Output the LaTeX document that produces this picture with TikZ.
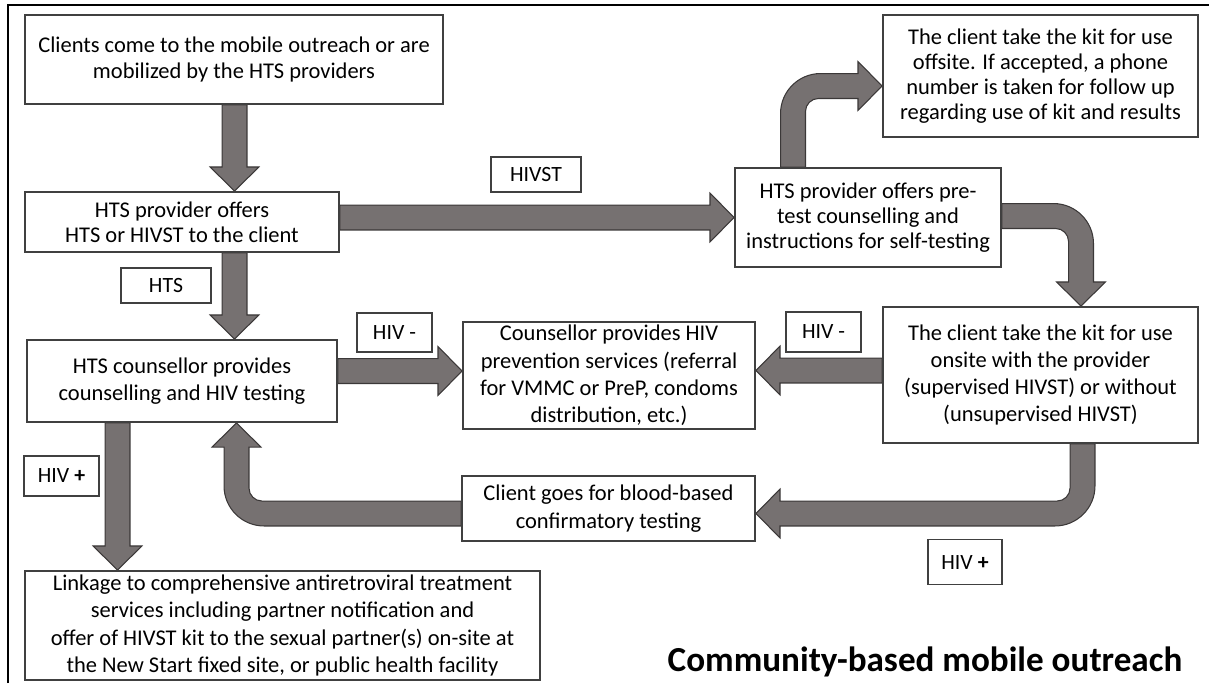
\documentclass[tikz,border=0pt]{standalone}
\usepackage{fontspec}
\setmainfont{Carlito}
\usetikzlibrary{calc,backgrounds}
\definecolor{arrowgray}{HTML}{767171}
\definecolor{arrowedge}{HTML}{3B3838}
\definecolor{boxedge}{HTML}{404040}
\tikzset{
  procbox/.style={draw=boxedge, line width=1.1pt, fill=white, align=center,
    inner sep=0pt, font=\fontsize{12.8}{15.5}\selectfont},
  tight/.style={font=\fontsize{12.8}{14.3}\selectfont},
  tagbox/.style={procbox, font=\fontsize{12.4}{14}\selectfont},
  fatarrow/.style={fill=arrowgray, draw=arrowedge, line width=0.6pt},
}
% block arrow sizes (shaft, head, bends)
\newcommand{\shaftw}{7.1pt}
\newcommand{\headw}{13.9pt}
\newcommand{\headl}{13.7pt}
\newcommand{\bendout}{22.8pt}
\newcommand{\bendin}{7.4pt}
% straight block arrows: from node, to node, position of the shaft
\newcommand{\fatdown}[3]{%
  \draw[fatarrow] let \p1=(#1.south), \p2=(#2.north), \p3=(#3,0) in
    (\x3-\shaftw,\y1) -- (\x3-\shaftw,\y2+\headl) -- (\x3-\headw,\y2+\headl) -- (\x3,\y2)
    -- (\x3+\headw,\y2+\headl) -- (\x3+\shaftw,\y2+\headl) -- (\x3+\shaftw,\y1) -- cycle;}
\newcommand{\fatright}[3]{%
  \draw[fatarrow] let \p1=(#1.east), \p2=(#2.west), \p3=(0,#3) in
    (\x1,\y3+\shaftw) -- (\x2-\headl,\y3+\shaftw) -- (\x2-\headl,\y3+\headw) -- (\x2,\y3)
    -- (\x2-\headl,\y3-\headw) -- (\x2-\headl,\y3-\shaftw) -- (\x1,\y3-\shaftw) -- cycle;}
\newcommand{\fatleft}[3]{%
  \draw[fatarrow] let \p1=(#1.west), \p2=(#2.east), \p3=(0,#3) in
    (\x1,\y3+\shaftw) -- (\x2+\headl,\y3+\shaftw) -- (\x2+\headl,\y3+\headw) -- (\x2,\y3)
    -- (\x2+\headl,\y3-\headw) -- (\x2+\headl,\y3-\shaftw) -- (\x1,\y3-\shaftw) -- cycle;}

\begin{document}
\begin{tikzpicture}[x=0.02cm, y=-0.02cm]
  \useasboundingbox (0,0) rectangle (1209,683);
  % frame
  \draw[line width=1.2pt] (8,683) -- (8,5) -- (1209,5);

  % boxes
  \node[procbox, tight, minimum width=8.36cm, minimum height=1.78cm] (clients) at (234,59.5)
    {Clients come to the mobile outreach or are\\mobilized by the HTS providers};
  \node[procbox, tight, minimum width=6.28cm, minimum height=1.2cm] (offer) at (182,222)
    {HTS provider offers\\HTS or HIVST to the client};
  \node[procbox, minimum width=6.2cm, minimum height=1.64cm] (counsel) at (182,381)
    {HTS counsellor provides\\counselling and HIV testing};
  \node[procbox, minimum width=10.3cm, minimum height=2.18cm] (linkage) at (282.5,625.5)
    {Linkage to comprehensive antiretroviral treatment\\services including partner notification and\\offer of HIVST kit to the sexual partner(s) on-site at\\the New Start fixed site, or public health facility};
  \node[procbox, minimum width=5.84cm, minimum height=2.14cm] (prevent) at (609,375.5)
    {Counsellor provides HIV\\prevention services (referral\\for VMMC or PreP, condoms\\distribution, etc.)};
  \node[procbox, minimum width=5.86cm, minimum height=1.3cm] (blood) at (608.5,508.5)
    {Client goes for blood-based\\confirmatory testing};
  \node[procbox, tight, minimum width=5.32cm, minimum height=1.98cm] (pretest) at (868,217.5)
    {HTS provider offers pre-\\test counselling and\\instructions for self-testing};
  \node[procbox, tight, minimum width=6.3cm, minimum height=2.44cm] (offsite) at (1040.5,76)
    {The client take the kit for use\\offsite. If accepted, a phone\\number is taken for follow up\\regarding use of kit and results};
  \node[procbox, minimum width=6.3cm, minimum height=2.72cm] (onsite) at (1040.5,375)
    {The client take the kit for use\\onsite with the provider\\(supervised HIVST) or without\\(unsupervised HIVST)};

  % labels
  \node[tagbox, minimum width=1.8cm, minimum height=0.7cm] (tagself) at (536,174.5) {HIVST};
  \node[tagbox, minimum width=1.8cm, minimum height=0.7cm] (tagtest) at (166,285.5) {HTS};
  \node[tagbox, minimum width=1.5cm, minimum height=0.78cm] (tagnegl) at (394.5,332.5) {HIV -};
  \node[tagbox, minimum width=1.5cm, minimum height=0.8cm] (tagnegr) at (823.5,332) {HIV -};
  \node[tagbox, minimum width=1.5cm, minimum height=0.8cm] (tagposl) at (61.5,476) {HIV \textbf{+}};
  \node[tagbox, minimum width=1.48cm, minimum height=0.9cm] (tagposr) at (965,562) {HIV \textbf{+}};

  \node[font=\fontsize{20}{24}\selectfont\bfseries] (title) at (925,662) {Community-based mobile outreach};

  \begin{scope}[on background layer]
    \fatdown{clients}{offer}{234.5}
    \fatdown{offer}{counsel}{234.5}
    \fatdown{counsel}{linkage}{117.5}
    \fatright{offer}{pretest}{217.5}
    \fatright{counsel}{prevent}{371}
    \fatleft{onsite}{prevent}{370.5}
    % bent arrows
    \draw[fatarrow] let \p1=(pretest.north), \p2=(offsite.west), \p3=(793,86) in
      (\x3-\shaftw,\y1) -- (\x3-\shaftw,\y3+\shaftw-\bendout) arc[start angle=180,end angle=90,radius=\bendout]
      -- (\x2-\headl,\y3+\shaftw) -- (\x2-\headl,\y3+\headw) -- (\x2,\y3) -- (\x2-\headl,\y3-\headw)
      -- (\x2-\headl,\y3-\shaftw) -- (\x3+\shaftw+\bendin,\y3-\shaftw) arc[start angle=90,end angle=180,radius=\bendin]
      -- (\x3+\shaftw,\y1) -- cycle;
    \draw[fatarrow] let \p1=(pretest.east), \p2=(onsite.north), \p3=(1081,216) in
      (\x1,\y3+\shaftw) -- (\x3+\shaftw-\bendout,\y3+\shaftw) arc[start angle=90,end angle=0,radius=\bendout]
      -- (\x3+\shaftw,\y2+\headl) -- (\x3+\headw,\y2+\headl) -- (\x3,\y2) -- (\x3-\headw,\y2+\headl)
      -- (\x3-\shaftw,\y2+\headl) -- (\x3-\shaftw,\y3-\shaftw-\bendin) arc[start angle=0,end angle=90,radius=\bendin]
      -- (\x1,\y3-\shaftw) -- cycle;
    \draw[fatarrow] let \p1=(onsite.south), \p2=(blood.east), \p3=(1082.5,513.5) in
      (\x3+\shaftw,\y1) -- (\x3+\shaftw,\y3-\shaftw+\bendout) arc[start angle=0,end angle=-90,radius=\bendout]
      -- (\x2+\headl,\y3-\shaftw) -- (\x2+\headl,\y3-\headw) -- (\x2,\y3) -- (\x2+\headl,\y3+\headw)
      -- (\x2+\headl,\y3+\shaftw) -- (\x3-\shaftw-\bendin,\y3+\shaftw) arc[start angle=-90,end angle=0,radius=\bendin]
      -- (\x3-\shaftw,\y1) -- cycle;
    \draw[fatarrow] let \p1=(blood.west), \p2=(counsel.south), \p3=(236.5,513.5) in
      (\x1,\y3-\shaftw) -- (\x3-\shaftw+\bendout,\y3-\shaftw) arc[start angle=-90,end angle=-180,radius=\bendout]
      -- (\x3-\shaftw,\y2-\headl) -- (\x3-\headw,\y2-\headl) -- (\x3,\y2) -- (\x3+\headw,\y2-\headl)
      -- (\x3+\shaftw,\y2-\headl) -- (\x3+\shaftw,\y3+\shaftw+\bendin) arc[start angle=180,end angle=270,radius=\bendin]
      -- (\x1,\y3+\shaftw) -- cycle;
  \end{scope}
\end{tikzpicture}
\end{document}
